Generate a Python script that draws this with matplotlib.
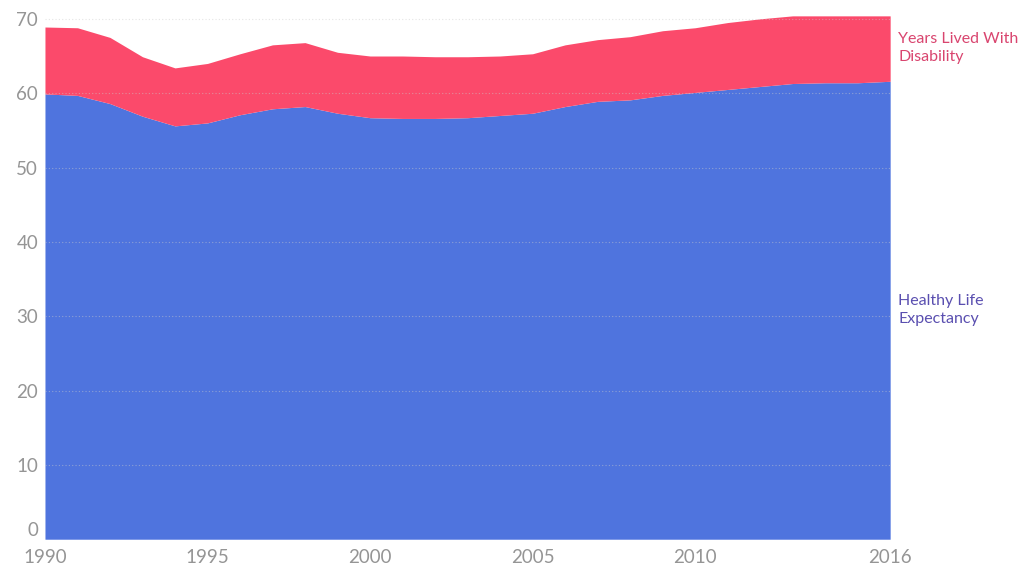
import numpy as np
import matplotlib.pyplot as plt

plt.rcParams['font.family'] = ['Lato', 'DejaVu Sans']

# ── Data
years = list(range(1990, 2017))
healthy = [59.9, 59.7, 58.6, 56.9, 55.6, 56.0, 57.1, 57.9, 58.2, 57.3,
           56.7, 56.6, 56.6, 56.7, 57.0, 57.3, 58.2, 58.9, 59.1, 59.7,
           60.1, 60.5, 60.9, 61.3, 61.4, 61.4, 61.6]
total = [68.9, 68.8, 67.5, 64.9, 63.4, 64.0, 65.3, 66.5, 66.8, 65.5,
         65.0, 65.0, 64.9, 64.9, 65.0, 65.3, 66.5, 67.2, 67.6, 68.4,
         68.8, 69.5, 70.0, 70.4, 70.4, 70.4, 70.4]
xticks = [1990, 1995, 2000, 2005, 2010, 2016]
yticks = [0, 10, 20, 30, 40, 50, 60, 70]

BLUE = "#4f74de"
RED = "#fb4a6b"

fig = plt.figure(figsize=(10.22, 5.70), dpi=100)
ax = fig.add_axes([0.044, 0.054, 0.827, 0.926])

x = np.array(years)
ax.fill_between(x, 0, healthy, color=BLUE, lw=0)
ax.fill_between(x, healthy, total, color=RED, lw=0)

for yv in yticks[1:]:
    ax.axhline(yv, color="#cccccc", lw=0.8, ls=(0, (1, 2)), alpha=0.5, zorder=3)

ax.set_xlim(1990, 2016)
ax.set_ylim(0, 71)
ax.set_xticks(xticks)
ax.set_yticks(yticks)
ax.tick_params(length=0, labelsize=13.5, labelcolor="#959595")
ax.tick_params(axis="y", pad=5)
ax.tick_params(axis="x", pad=7)
ax.get_yticklabels()[0].set_va("bottom")
for s in ax.spines.values():
    s.set_visible(False)

ax.text(2016.25, 66.1, "Years Lived With\nDisability", color="#d9456f",
        fontsize=11.5, va="center", ha="left", linespacing=1.35)
ax.text(2016.25, 30.8, "Healthy Life\nExpectancy", color="#5a4fb0",
        fontsize=11.5, va="center", ha="left", linespacing=1.35)

plt.savefig("out.png", dpi=100)
